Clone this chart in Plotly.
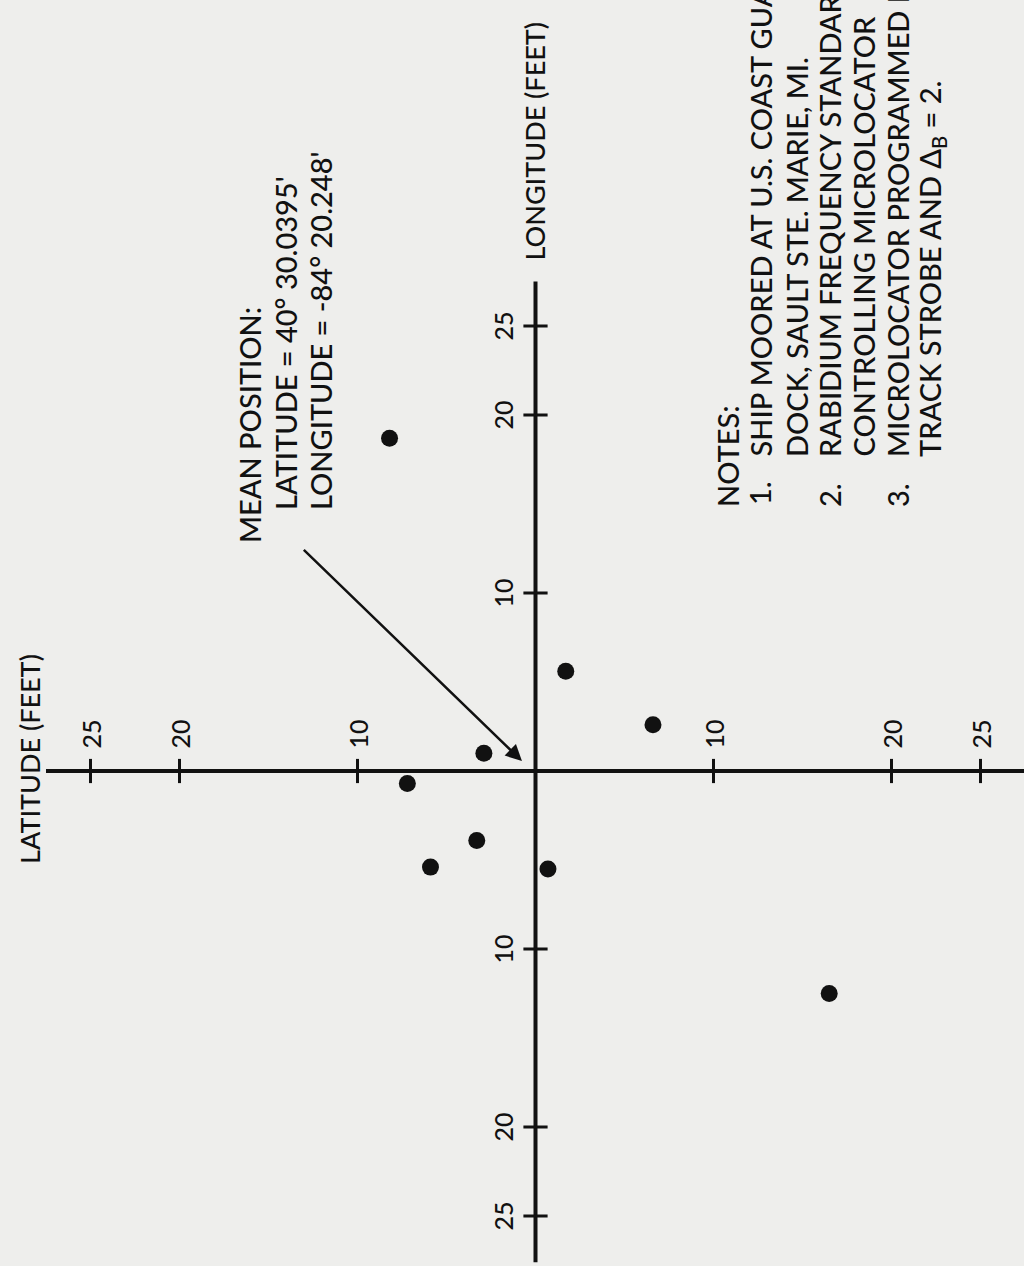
import plotly.graph_objects as go

# ---------------- data (feet from mean position) ----------------
lat_ft = [8.2, 7.2, 2.9, 5.9, 3.3, -0.7, -1.7, -6.6, -16.5]
lon_ft = [18.7, -0.7, 1.0, -5.4, -3.9, -5.5, 5.6, 2.6, -12.5]
tick_values = [10, 20, 25]
tick_labels = ["10", "20", "25"]
lat_axis_extent = [27.5, -28.5]
lon_axis_extent = [27.5, -27.6]
arrow_tail = (13.1, 12.5)
arrow_head = (0.76, 0.56)

mean_lines = ["MEAN POSITION:", "LATITUDE = 40° 30.0395'", "LONGITUDE = -84° 20.248'"]
note_numbers = ["1.", "2.", "3."]
note_lines = [
    "NOTES:",
    "SHIP MOORED AT U.S. COAST GUARD",
    "DOCK, SAULT STE. MARIE, MI.",
    "RABIDIUM FREQUENCY STANDARD",
    "CONTROLLING MICROLOCATOR",
    "MICROLOCATOR PROGRAMMED FOR",
    "TRACK STROBE AND Δ<sub>B</sub> = 2.",
]

# ---------------- layout geometry ----------------
W, H = 1024, 1266
X0, Y0 = 535.5, 771.0   # pixel position of origin
S = 17.8                # pixels per foot
x_range = [X0 / S, -(W - X0) / S]      # latitude positive to the left
y_range = [-(H - Y0) / S, Y0 / S]      # longitude positive upward
TICK = 0.68
INK = "#111111"
BG = "#eeeeec"
FONT = "Lato"
TXT = dict(family=FONT, size=29, color=INK, weight=500)


def P(px, py):
    return px / W, 1 - py / H


fig = go.Figure()

# axis lines
fig.add_trace(go.Scatter(x=lat_axis_extent, y=[0, 0], mode="lines",
                         line=dict(color=INK, width=4), hoverinfo="skip"))
fig.add_trace(go.Scatter(x=[0, 0], y=lon_axis_extent, mode="lines",
                         line=dict(color=INK, width=4), hoverinfo="skip"))

# tick marks
tx, ty = [], []
for t in tick_values:
    for s in (1, -1):
        tx += [s * t, s * t, None]
        ty += [-TICK, TICK, None]
        tx += [-TICK, TICK, None]
        ty += [s * t, s * t, None]
fig.add_trace(go.Scatter(x=tx, y=ty, mode="lines",
                         line=dict(color=INK, width=3), hoverinfo="skip"))

# data points
fig.add_trace(go.Scatter(x=lat_ft, y=lon_ft, mode="markers",
                         marker=dict(color=INK, size=17)))

annotations = []
# tick labels
for t, lab in zip(tick_values, tick_labels):
    for s in (1, -1):
        annotations.append(dict(x=s * t, y=0, xref="x", yref="y", text=lab,
                                showarrow=False, textangle=-90, yshift=37,
                                font=dict(family=FONT, size=25, color=INK, weight=500)))
        annotations.append(dict(x=0, y=s * t, xref="x", yref="y", text=lab,
                                showarrow=False, textangle=-90, xshift=-33,
                                font=dict(family=FONT, size=25, color=INK, weight=500)))

# axis titles
px, py = P(29, 866)
annotations.append(dict(x=px, y=py, xref="paper", yref="paper", text="LATITUDE (FEET)",
                        showarrow=False, textangle=-90, xanchor="center", yanchor="bottom",
                        font=dict(family=FONT, size=27, color=INK, weight=500)))
px, py = P(534, 263)
annotations.append(dict(x=px, y=py, xref="paper", yref="paper", text="LONGITUDE (FEET)",
                        showarrow=False, textangle=-90, xanchor="center", yanchor="bottom",
                        font=dict(family=FONT, size=27, color=INK, weight=500)))

# mean position block
for (cx, sy), txt in zip([(249, 545), (285, 512), (320, 512)], mean_lines):
    px, py = P(cx, sy)
    annotations.append(dict(x=px, y=py, xref="paper", yref="paper", text=txt,
                            showarrow=False, textangle=-90, xanchor="center", yanchor="bottom",
                            font=TXT))

# arrow to mean position
annotations.append(dict(x=arrow_head[0], y=arrow_head[1], xref="x", yref="y",
                        ax=arrow_tail[0], ay=arrow_tail[1], axref="x", ayref="y",
                        text="", showarrow=True, arrowhead=2, arrowsize=1.3,
                        arrowwidth=2.5, arrowcolor=INK))

# notes
note_pos = [(727, 509), (760, 459), (796, 459), (829, 459), (863, 459), (897, 459), (931, 459)]
for (cx, sy), txt in zip(note_pos, note_lines):
    px, py = P(cx, sy)
    annotations.append(dict(x=px, y=py, xref="paper", yref="paper", text=txt,
                            showarrow=False, textangle=-90, xanchor="center", yanchor="bottom",
                            font=TXT))
for (cx, sy), txt in zip([(760, 507), (829, 509), (897, 509)], note_numbers):
    px, py = P(cx, sy)
    annotations.append(dict(x=px, y=py, xref="paper", yref="paper", text=txt,
                            showarrow=False, textangle=-90, xanchor="center", yanchor="bottom",
                            font=TXT))

fig.update_layout(
    width=W, height=H,
    margin=dict(l=0, r=0, t=0, b=0),
    paper_bgcolor=BG, plot_bgcolor=BG,
    showlegend=False,
    xaxis=dict(range=x_range, visible=False, fixedrange=True),
    yaxis=dict(range=y_range, visible=False, fixedrange=True),
    annotations=annotations,
)

fig.write_html(
    "out.html",
    config={"displayModeBar": False, "staticPlot": True},
    post_script="document.body.style.margin='0';document.body.style.background='%s';" % BG,
)
